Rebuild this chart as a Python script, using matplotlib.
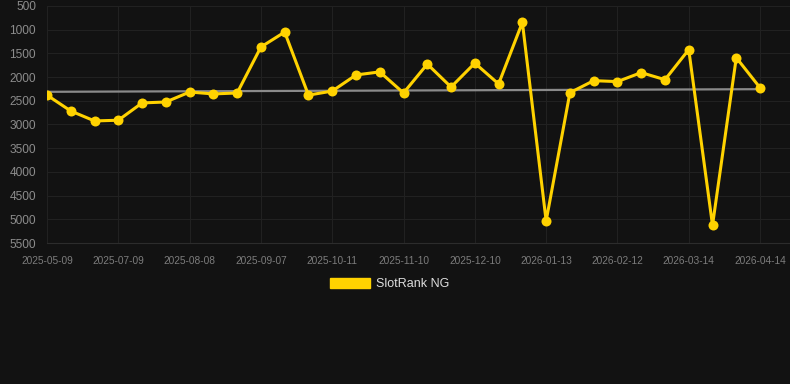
import matplotlib
matplotlib.use("Agg")
import matplotlib.pyplot as plt
from matplotlib.patches import Patch
import numpy as np

plt.rcParams["font.family"] = ["Liberation Sans", "DejaVu Sans"]

# dates on the category axis (every 3rd one is labelled)
dates = [
    "2025-05-09", "2025-05-29", "2025-06-19", "2025-07-09", "2025-07-19", "2025-07-29",
    "2025-08-08", "2025-08-18", "2025-08-28", "2025-09-07", "2025-09-18", "2025-09-29",
    "2025-10-11", "2025-10-21", "2025-10-31", "2025-11-10", "2025-11-20", "2025-11-30",
    "2025-12-10", "2025-12-21", "2026-01-02", "2026-01-13", "2026-01-23", "2026-02-02",
    "2026-02-12", "2026-02-22", "2026-03-04", "2026-03-14", "2026-03-24", "2026-04-03",
    "2026-04-14",
]
rank = [
    2380, 2715, 2925, 2910, 2545, 2525, 2315, 2355, 2335, 1365, 1050,
    2380, 2295, 1955, 1890, 2335, 1725, 2210, 1705, 2145, 845,
    5035, 2330, 2075, 2095, 1905, 2055, 1420, 5125, 1590, 2225,
]
y_ticks = [500, 1000, 1500, 2000, 2500, 3000, 3500, 4000, 4500, 5000, 5500]

bg = "#121212"
yellow = "#FFD200"

fig = plt.figure(figsize=(7.9, 3.84), dpi=100, facecolor=bg)
ax = fig.add_axes([47 / 790, 1 - 243 / 384, 1 - 47 / 790, (243 - 6) / 384])
ax.set_facecolor(bg)

x = np.arange(len(rank))

# trend line
k, b = np.polyfit(x, rank, 1)
ax.plot(x, k * x + b, color="#8a8a8a", lw=1.6, zorder=2)

ax.plot(x, rank, color=yellow, lw=2.2, marker="o", ms=7.2,
        markeredgewidth=0, zorder=3, solid_joinstyle="miter")

ax.set_ylim(5500, 500)
ax.set_yticks(y_ticks)
ax.set_xlim(0, 31.26)
ax.set_xticks(x[::3])
ax.set_xticklabels(dates[::3])

ax.grid(True, color="#212121", lw=0.8)
ax.set_axisbelow(True)
for side in ["top", "right", "left"]:
    ax.spines[side].set_visible(False)
ax.spines["bottom"].set_color("#2c2c2c")
ax.tick_params(axis="y", length=0, pad=8, labelsize=8.6, labelcolor="#8c8c8c")
ax.tick_params(axis="x", length=0, pad=9, labelsize=7.3, labelcolor="#7c7c7c")

leg = fig.legend(handles=[Patch(color=yellow, label="SlotRank NG")],
                 loc="center", bbox_to_anchor=(390 / 790, 1 - 284 / 384),
                 frameon=False, fontsize=9, handlelength=3.2, handleheight=0.9,
                 handletextpad=0.5)
for t in leg.get_texts():
    t.set_color("#dddddd")

fig.savefig("out.png", dpi=100, facecolor=bg)
